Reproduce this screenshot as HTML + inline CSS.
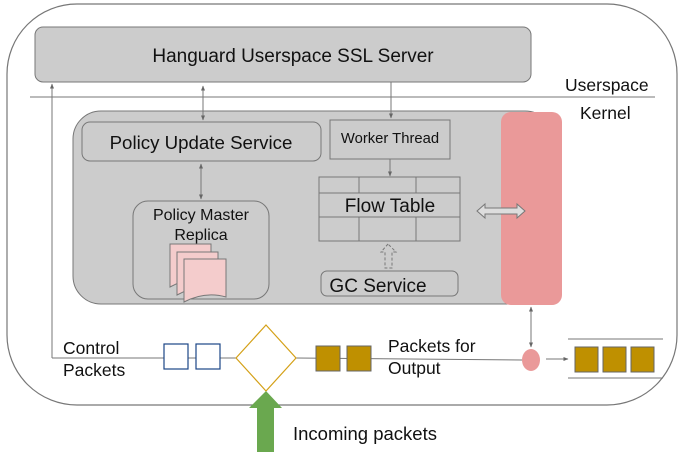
<!DOCTYPE html>
<html><head><meta charset="utf-8"><style>html,body{margin:0;padding:0;background:#fff}svg{display:block}text{font-family:"Liberation Sans",sans-serif;fill:#111}</style></head><body>
<svg width="685" height="455" viewBox="0 0 685 455" xmlns="http://www.w3.org/2000/svg">
<defs>
<marker id="a" viewBox="0 0 10 10" refX="9" refY="5" markerWidth="5" markerHeight="5" orient="auto-start-reverse"><path d="M0,1 L10,5 L0,9 z" fill="#666"/></marker>
</defs>
<rect x="7" y="4" width="670" height="401" rx="70" fill="#fff" stroke="#777" stroke-width="1.2"/>
<rect x="35" y="27" width="496" height="55" rx="8" fill="#ccc" stroke="#777"/>
<text x="293" y="62" font-size="19" text-anchor="middle">Hanguard Userspace SSL Server</text>
<line x1="30" y1="97" x2="655" y2="97" stroke="#777"/>
<text x="565" y="91" font-size="17.5">Userspace</text>
<text x="580" y="119" font-size="17.5">Kernel</text>
<rect x="73" y="111" width="480" height="193" rx="28" fill="#ccc" stroke="#777"/>
<rect x="501" y="112" width="61" height="193" rx="10" fill="#ea9999"/>
<rect x="82" y="122" width="239" height="39" rx="8" fill="#ccc" stroke="#777"/>
<text x="201" y="149" font-size="18.7" text-anchor="middle">Policy Update Service</text>
<rect x="330" y="120" width="120" height="39" fill="#ccc" stroke="#777"/>
<text x="390" y="143" font-size="14.8" text-anchor="middle">Worker Thread</text>
<rect x="319" y="177" width="141" height="64" fill="#ccc" stroke="#777"/>
<line x1="319" y1="193" x2="460" y2="193" stroke="#777"/>
<line x1="319" y1="217" x2="460" y2="217" stroke="#777"/>
<line x1="359" y1="177" x2="359" y2="193" stroke="#777"/><line x1="416" y1="177" x2="416" y2="193" stroke="#777"/>
<line x1="359" y1="217" x2="359" y2="241" stroke="#777"/><line x1="416" y1="217" x2="416" y2="241" stroke="#777"/>
<text x="390" y="212" font-size="19" text-anchor="middle">Flow Table</text>
<rect x="321" y="271" width="137" height="25" rx="6" fill="#ccc" stroke="#777"/>
<text x="378" y="292" font-size="19" text-anchor="middle">GC Service</text>
<path d="M388,244 L381,252 L385,252 L385,268 L392,268 L392,252 L396,252 Z" fill="none" stroke="#777" stroke-dasharray="3,2"/>
<path d="M477,211 L485,204 L485,208 L517,208 L517,204 L525,211 L517,218 L517,214 L485,214 L485,218 Z" fill="#ddd" stroke="#777"/>
<rect x="133" y="201" width="136" height="98" rx="15" fill="#ccc" stroke="#777"/>
<text x="201" y="220" font-size="16" text-anchor="middle">Policy Master</text>
<text x="201" y="240" font-size="16" text-anchor="middle">Replica</text>
<path d="M170,244 H211 V282 Q190,276 170,287 Z" fill="#f4cccc" stroke="#777"/>
<path d="M177,252 H218 V290 Q197,284 177,295 Z" fill="#f4cccc" stroke="#777"/>
<path d="M184,259 H226 V297 Q205,291 184,302 Z" fill="#f4cccc" stroke="#777"/>
<g stroke="#777" fill="none">
<line x1="52" y1="358" x2="52" y2="84" marker-end="url(#a)"/>
<line x1="52" y1="358" x2="236" y2="358"/>
<line x1="203" y1="86" x2="203" y2="120" marker-start="url(#a)" marker-end="url(#a)"/>
<line x1="391" y1="82" x2="391" y2="118" marker-end="url(#a)"/>
<line x1="390" y1="159" x2="390" y2="176" marker-end="url(#a)"/>
<line x1="201" y1="164" x2="201" y2="199" marker-start="url(#a)" marker-end="url(#a)"/>
<line x1="296" y1="358" x2="522" y2="360"/>
<line x1="531" y1="307" x2="531" y2="347" marker-start="url(#a)" marker-end="url(#a)"/>
<line x1="546" y1="359" x2="568" y2="359" marker-end="url(#a)"/>
<line x1="568" y1="339" x2="663" y2="339"/>
<line x1="568" y1="378" x2="663" y2="378"/>
</g>
<rect x="164" y="344" width="24" height="25" fill="#fff" stroke="#1c4587" stroke-width="1.2"/>
<rect x="196" y="344" width="24" height="25" fill="#fff" stroke="#1c4587" stroke-width="1.2"/>
<path d="M266,325 L296,358 L266,391 L236,358 Z" fill="#fff" stroke="#d4a017" stroke-width="1.2"/>
<rect x="316" y="346" width="24" height="25" fill="#bf9000" stroke="#666"/>
<rect x="347" y="346" width="24" height="25" fill="#bf9000" stroke="#666"/>
<ellipse cx="531" cy="360" rx="9" ry="11" fill="#ea9999"/>
<rect x="575" y="347" width="23" height="25" fill="#bf9000" stroke="#666"/>
<rect x="603" y="347" width="23" height="25" fill="#bf9000" stroke="#666"/>
<rect x="631" y="347" width="23" height="25" fill="#bf9000" stroke="#666"/>
<path d="M266,391 L282,408 L274,408 L274,452 L257,452 L257,408 L249,408 Z" fill="#6aa84f"/>
<text x="63" y="354" font-size="17.5">Control</text>
<text x="63" y="376" font-size="17.5">Packets</text>
<text x="388" y="352" font-size="17.5">Packets for</text>
<text x="388" y="374" font-size="17.5">Output</text>
<text x="293" y="440" font-size="18.5">Incoming packets</text>
</svg>
</body></html>
